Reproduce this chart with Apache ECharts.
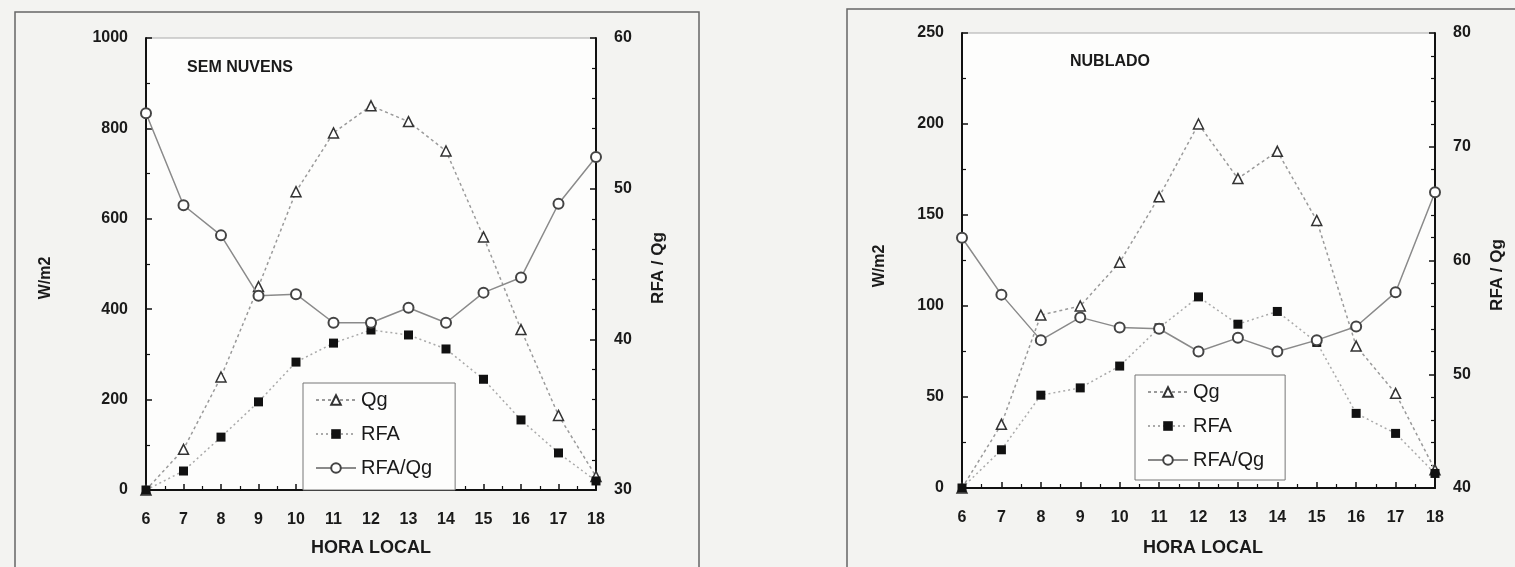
<!DOCTYPE html>
<html>
<head>
<meta charset="utf-8">
<script src="https://cdn.jsdelivr.net/npm/echarts@6/dist/echarts.min.js"></script>
<style>
html,body{margin:0;padding:0;background:#f3f3f1;}
#chart{width:1515px;height:567px;}
</style>
</head>
<body>
<div id="chart"></div>
<script>
// Hours (x axis)
const hours = [6, 7, 8, 9, 10, 11, 12, 13, 14, 15, 16, 17, 18];

// SEM NUVENS (clear sky)
const qgClear    = [0, 90, 250, 450, 660, 790, 850, 815, 750, 560, 355, 165, 30];
const rfaClear   = [0, 42, 117, 195, 283, 325, 354, 343, 312, 245, 155, 82, 20];
const ratioClear = [55.0, 48.9, 46.9, 42.9, 43.0, 41.1, 41.1, 42.1, 41.1, 43.1, 44.1, 49.0, 52.1];

// NUBLADO (cloudy)
const qgCloudy    = [0, 35, 95, 100, 124, 160, 200, 170, 185, 147, 78, 52, 10];
const rfaCloudy   = [0, 21, 51, 55, 67, 88, 105, 90, 97, 80, 41, 30, 8];
const ratioCloudy = [62.0, 57.0, 53.0, 55.0, 54.1, 54.0, 52.0, 53.2, 52.0, 53.0, 54.2, 57.2, 66.0];

// Texts
const titles = ['SEM NUVENS', 'NUBLADO'];
const xName = 'HORA LOCAL';
const yLeftName = 'W/m2';
const yRightName = 'RFA / Qg';
const seriesNames = ['Qg', 'RFA', 'RFA/Qg'];

const FONT = 'Liberation Sans, Arial, sans-serif';
const TXT = '#1a1a1a';

function pairs(arr) { return hours.map((h, i) => [h, arr[i]]); }

function xAxisCfg(gi) {
  return {
    type: 'value', gridIndex: gi, min: 6, max: 18, interval: 1,
    axisLine: { show: true, lineStyle: { color: '#111', width: 2 } },
    axisTick: { show: true, inside: true, length: 6, lineStyle: { color: '#111', width: 1.5 } },
    minorTick: { show: true, splitNumber: 2, length: 4, lineStyle: { color: '#111', width: 1.2 } },
    axisLabel: { color: TXT, fontSize: 16, fontWeight: 'bold', fontFamily: FONT, margin: 22, formatter: v => String(v) },
    splitLine: { show: false }
  };
}
function yAxisCfg(gi, pos, min, max, interval, minorSplit) {
  return {
    type: 'value', gridIndex: gi, position: pos, min: min, max: max, interval: interval,
    axisLine: { show: true, onZero: false, lineStyle: { color: '#111', width: 2 } },
    axisTick: { show: true, inside: true, length: 6, lineStyle: { color: '#111', width: 1.5 } },
    minorTick: { show: true, splitNumber: minorSplit, length: 4, lineStyle: { color: '#111', width: 1.2 } },
    axisLabel: { color: TXT, fontSize: 16, fontWeight: 'bold', fontFamily: FONT, margin: 18, formatter: v => String(v) },
    splitLine: { show: false }
  };
}
function seriesSet(gi, qg, rfa, ratio) {
  return [
    {
      name: seriesNames[0], type: 'line', xAxisIndex: gi, yAxisIndex: gi * 2, data: pairs(qg),
      symbol: 'triangle', symbolSize: 10,
      itemStyle: { color: '#fff', borderColor: '#333', borderWidth: 1.5 },
      lineStyle: { color: '#9a9a9a', width: 1.5, type: [3, 3] }, z: 3
    },
    {
      name: seriesNames[1], type: 'line', xAxisIndex: gi, yAxisIndex: gi * 2, data: pairs(rfa),
      symbol: 'rect', symbolSize: 9,
      itemStyle: { color: '#111', borderColor: '#111', borderWidth: 0 },
      lineStyle: { color: '#aaaaaa', width: 1.5, type: [2, 3] }, z: 4
    },
    {
      name: seriesNames[2], type: 'line', xAxisIndex: gi, yAxisIndex: gi * 2 + 1, data: pairs(ratio),
      symbol: 'circle', symbolSize: 10,
      itemStyle: { color: '#fff', borderColor: '#444', borderWidth: 2 },
      lineStyle: { color: '#8a8a8a', width: 1.5 }, z: 5
    }
  ];
}
function legendCfg(left, top, padding) {
  return {
    data: seriesNames, orient: 'vertical', left: left, top: top,
    itemWidth: 40, itemHeight: 12, itemGap: 14,
    padding: padding,
    borderColor: '#777', borderWidth: 1, backgroundColor: '#fdfdfc',
    textStyle: { color: TXT, fontSize: 20, fontFamily: FONT },
    selectedMode: false
  };
}
function vText(x, y, t, size) {
  return { type: 'text', x: x, y: y, rotation: Math.PI / 2,
    style: { text: t, fill: TXT, font: 'bold ' + size + 'px ' + FONT, align: 'center', verticalAlign: 'middle' } };
}
function hText(x, y, t, size, weight) {
  return { type: 'text', x: x, y: y,
    style: { text: t, fill: TXT, font: (weight || 'normal') + ' ' + size + 'px ' + FONT, align: 'center', verticalAlign: 'middle' } };
}

const chart = echarts.init(document.getElementById('chart'), null, { renderer: 'canvas' });
chart.setOption({
  animation: false,
  backgroundColor: '#f3f3f1',
  grid: [
    { left: 146, top: 38, width: 450, height: 452, show: true, borderColor: '#aaa', borderWidth: 1, backgroundColor: '#fdfdfc' },
    { left: 962, top: 33, width: 473, height: 455, show: true, borderColor: '#aaa', borderWidth: 1, backgroundColor: '#fdfdfc' }
  ],
  xAxis: [xAxisCfg(0), xAxisCfg(1)],
  yAxis: [
    yAxisCfg(0, 'left', 0, 1000, 200, 2),
    yAxisCfg(0, 'right', 30, 60, 10, 5),
    yAxisCfg(1, 'left', 0, 250, 50, 2),
    yAxisCfg(1, 'right', 40, 80, 10, 5)
  ],
  legend: [legendCfg(303, 383, [7, 23, 12, 12]), legendCfg(1135, 375, [7, 21, 10, 12])],
  series: [].concat(seriesSet(0, qgClear, rfaClear, ratioClear), seriesSet(1, qgCloudy, rfaCloudy, ratioCloudy)),
  graphic: [
    { type: 'rect', shape: { x: 15, y: 12, width: 684, height: 620 }, style: { fill: 'none', stroke: '#666', lineWidth: 1.5 }, silent: true, z: -1 },
    { type: 'rect', shape: { x: 847, y: 9, width: 720, height: 620 }, style: { fill: 'none', stroke: '#666', lineWidth: 1.5 }, silent: true, z: -1 },
    hText(240, 68, titles[0], 16, 'bold'),
    hText(1110, 62, titles[1], 16, 'bold'),
    hText(371, 548, xName, 18, 'bold'),
    hText(1203, 548, xName, 18, 'bold'),
    vText(46, 278, yLeftName, 16),
    vText(658, 268, yRightName, 17),
    vText(880, 266, yLeftName, 16),
    vText(1497, 275, yRightName, 17)
  ]
});
</script>
</body>
</html>
